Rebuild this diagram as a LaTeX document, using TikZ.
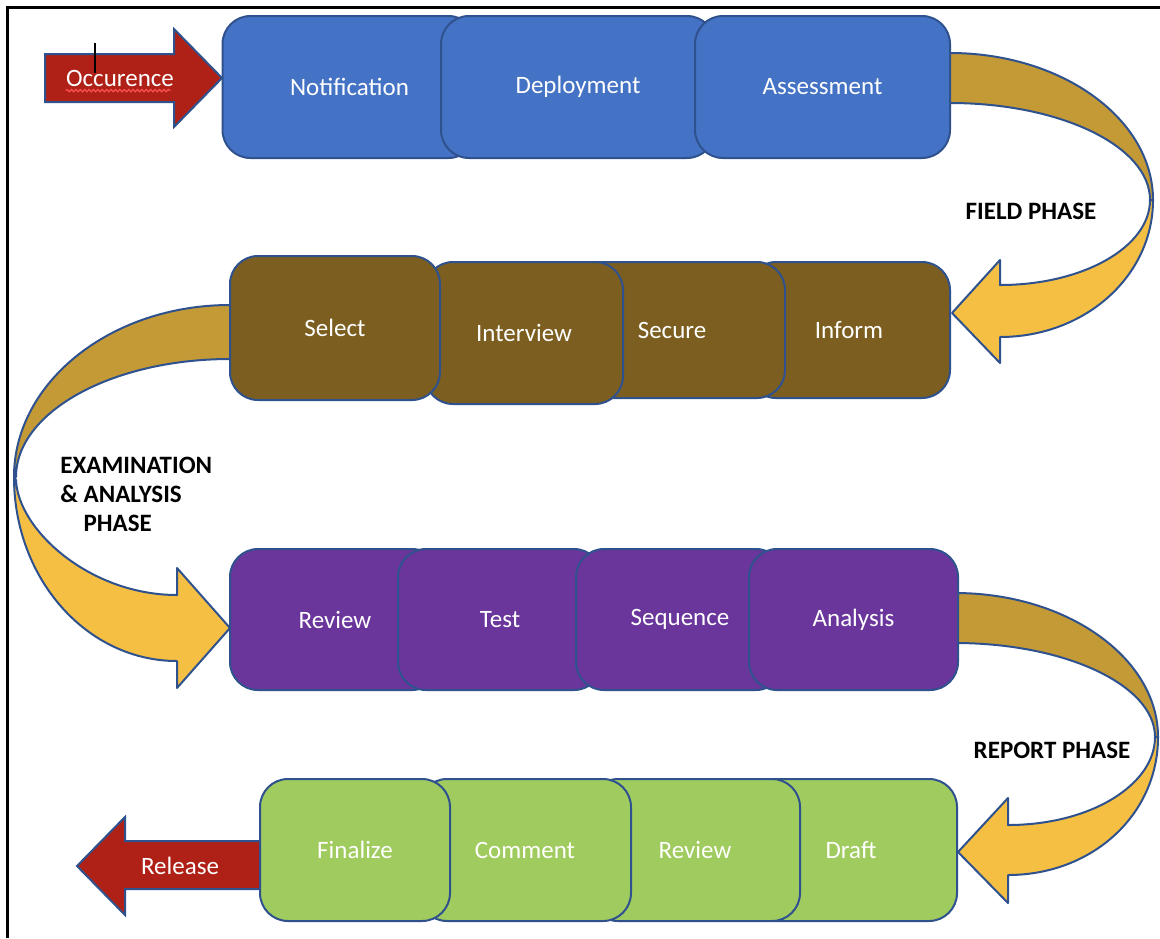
\documentclass[tikz,border=0pt]{standalone}
\usepackage{fontspec}
\setmainfont{Carlito}
\usetikzlibrary{decorations.pathmorphing}
\definecolor{outl}{HTML}{2F528F}
\definecolor{cblue}{HTML}{4472C4}
\definecolor{cbrown}{HTML}{7B5E20}
\definecolor{cpurple}{HTML}{6A369B}
\definecolor{cgreen}{HTML}{A0CB5E}
\definecolor{cred}{HTML}{AF2116}
\definecolor{squig}{HTML}{FF5050}
\definecolor{golddark}{HTML}{C49A36}
\definecolor{goldlight}{HTML}{F5BF43}
\tikzset{
  box/.style={draw=outl, line width=1pt, rounded corners=14pt, text=white,
    font=\fontsize{12.5}{15}\selectfont, inner sep=0pt},
  bandd/.style={draw=outl, line width=1pt, fill=golddark, line join=round},
  bandl/.style={draw=outl, line width=1pt, fill=goldlight, line join=round},
  redarrow/.style={draw=outl, line width=1pt, fill=cred, line join=miter},
  phase/.style={font=\fontsize{12.5}{14.5}\selectfont\bfseries, text=black, inner sep=0pt},
  wlabel/.style={text=white, font=\fontsize{12.5}{15}\selectfont, inner sep=0pt}
}
\begin{document}
\begin{tikzpicture}[x=0.5pt,y=-0.5pt]
\useasboundingbox (0,0) rectangle (1160,938);
\fill[white] (0,0) rectangle (1160,938);
% frame
\draw[line width=1.5pt] (7,938) -- (7,7) -- (1160,7);

% ---- curved arrows ----
% Field phase
\path[bandl] (1150,200) .. controls (1150,247) and (1083,285) .. (1000,285)
  -- (1000,260) -- (952,313) -- (1000,363) -- (1000,337)
  .. controls (1085,337) and (1153,276) .. (1153,200) -- cycle;
\path[bandd] (940,53) -- (950,53) .. controls (1062,53) and (1153,119) .. (1153,200)
  -- (1150,200) .. controls (1150,146) and (1060,103) .. (950,103) -- (940,103) -- cycle;
% Examination phase
\path[bandl] (16,480) .. controls (18,530) and (90,595) .. (177,595)
  -- (177,568) -- (230,628) -- (177,688) -- (177,661)
  .. controls (87,661) and (14,579) .. (14,477) -- cycle;
\path[bandd] (240,305) -- (230,305) .. controls (111,305) and (14,382) .. (14,477)
  -- (16,477) .. controls (16,412) and (112,359) .. (230,359) -- (240,359) -- cycle;
% Report phase
\path[bandl] (1155,737) .. controls (1155,785) and (1090,825) .. (1008,825)
  -- (1008,798) -- (958,852) -- (1008,903) -- (1008,875)
  .. controls (1092,875) and (1158,815) .. (1158,737) -- cycle;
\path[bandd] (945,593) -- (955,593) .. controls (1067,593) and (1158,658) .. (1158,737)
  -- (1155,737) .. controls (1155,685) and (1065,643) .. (955,643) -- (945,643) -- cycle;

% ---- straight arrows ----
\path[redarrow] (45,54) -- (174,54) -- (174,29) -- (222,78) -- (174,127) -- (174,102) -- (45,102) -- cycle;
\node[wlabel] (occ) at (120,78) {Occurence};
\draw[squig, line width=0.6pt, decorate, decoration={snake, segment length=2.2pt, amplitude=0.6pt}]
  (occ.south west) ++(0,4) -- ++(105,0);
\draw[black, line width=0.6pt] (95,43) -- (95,73);

\path[redarrow] (270,841) -- (125,841) -- (125,817) -- (77,866) -- (125,915) -- (125,889) -- (270,889) -- cycle;
\node[wlabel] (rel) at (180,866) {Release};

% ---- blue row ----
\node[box, fill=cblue, minimum width=127pt, minimum height=71pt] (notif) at (349.5,87) {Notification};
\node[box, fill=cblue, minimum width=137pt, minimum height=71pt] (deploy) at (578,87) {Deployment};
\node[box, fill=cblue, minimum width=127.5pt, minimum height=71pt] (assess) at (822.5,87) {Assessment};

% ---- brown row ----
\node[box, fill=cbrown, minimum width=101pt, minimum height=68pt] (inform) at (849,330) {Inform};
\node[box, fill=cbrown, minimum width=113pt, minimum height=68pt] (secure) at (672,330) {Secure};
\node[box, fill=cbrown, minimum width=99pt, minimum height=71pt] (interview) at (524,333) {Interview};
\node[box, fill=cbrown, minimum width=105pt, minimum height=72pt] (select) at (335,328) {Select};

% ---- purple row ----
\node[box, fill=cpurple, minimum width=105pt, minimum height=70.5pt] (review) at (335,619.5) {Review};
\node[box, fill=cpurple, minimum width=102pt, minimum height=70.5pt] (test) at (500,619.5) {Test};
\node[box, fill=cpurple, minimum width=104pt, minimum height=70.5pt] (sequence) at (680,619.5) {Sequence};
\node[box, fill=cpurple, minimum width=104.5pt, minimum height=70.5pt] (analysis) at (853.5,619.5) {Analysis};

% ---- green row ----
\node[box, fill=cgreen, minimum width=106pt, minimum height=71pt] (draft) at (851,850) {Draft};
\node[box, fill=cgreen, minimum width=105pt, minimum height=71pt] (review2) at (695,850) {Review};
\node[box, fill=cgreen, minimum width=106pt, minimum height=71pt] (comment) at (525,850) {Comment};
\node[box, fill=cgreen, minimum width=95pt, minimum height=71pt] (finalize) at (355,850) {Finalize};

% ---- phase labels ----
\node[phase] (field) at (1031,211) {FIELD PHASE};
\node[phase, align=left, anchor=west] (exam) at (60,494) {EXAMINATION\\\& ANALYSIS\\\hphantom{\& }PHASE};
\node[phase] (report) at (1052,750) {REPORT PHASE};
\end{tikzpicture}
\end{document}
